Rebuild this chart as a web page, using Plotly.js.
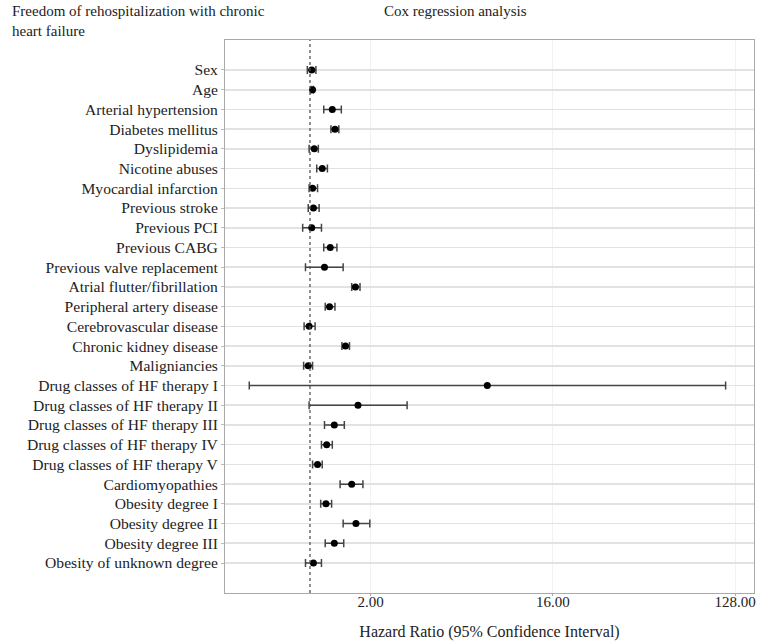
<!DOCTYPE html>
<html>
<head>
<meta charset="utf-8">
<script src="https://cdn.plot.ly/plotly-3.0.1.min.js"></script>
<style>
html,body{margin:0;padding:0;background:#fff;}
#chart{width:757px;height:643px;}
</style>
</head>
<body>
<div id="chart"></div>
<script>
const variables = [
  "Sex","Age","Arterial hypertension","Diabetes mellitus","Dyslipidemia",
  "Nicotine abuses","Myocardial infarction","Previous stroke","Previous PCI",
  "Previous CABG","Previous valve replacement","Atrial flutter/fibrillation",
  "Peripheral artery disease","Cerebrovascular disease","Chronic kidney disease",
  "Malignianciess","Drug classes of HF therapy I","Drug classes of HF therapy II",
  "Drug classes of HF therapy III","Drug classes of HF therapy IV",
  "Drug classes of HF therapy V","Cardiomyopathies","Obesity degree I",
  "Obesity degree II","Obesity degree III","Obesity of unknown degree"
];
const hazardRatio = [1.02,1.03,1.29,1.33,1.05,1.15,1.03,1.04,1.02,1.26,1.18,1.68,1.25,0.99,1.50,0.98,7.57,1.73,1.32,1.21,1.09,1.61,1.20,1.69,1.32,1.04];
const ciLower     = [0.97,1.01,1.17,1.27,0.99,1.08,0.99,0.98,0.92,1.17,0.95,1.61,1.19,0.935,1.44,0.93,0.50,0.99,1.18,1.14,1.03,1.41,1.13,1.46,1.19,0.95];
const ciUpper     = [1.07,1.04,1.43,1.39,1.10,1.22,1.09,1.11,1.14,1.36,1.46,1.77,1.33,1.06,1.57,1.03,115,3.03,1.48,1.29,1.15,1.83,1.28,1.98,1.47,1.14];
const tickValues = [2,16,128];
const tickLabels = ["2.00","16.00","128.00"];
const referenceValue = 1;

variables[15] = "Malignianciess".replace("ss","s");

const idx = variables.map((_, i) => i);
const FONT = "Liberation Serif, Times New Roman, serif";

const trace = {
  type: "scatter",
  mode: "markers",
  x: hazardRatio,
  y: idx,
  marker: {color: "#000", size: 7},
  error_x: {
    type: "data",
    symmetric: false,
    array: hazardRatio.map((v, i) => ciUpper[i] - v),
    arrayminus: hazardRatio.map((v, i) => v - ciLower[i]),
    color: "#444",
    thickness: 1.5,
    width: 4
  },
  hoverinfo: "skip",
  showlegend: false
};

const layout = {
  width: 757,
  height: 643,
  margin: {l: 225, r: 3, t: 40, b: 50},
  paper_bgcolor: "#fff",
  plot_bgcolor: "#fff",
  font: {family: FONT, size: 16, color: "#222"},
  xaxis: {
    type: "log",
    range: [Math.log10(0.379), Math.log10(159)],
    tickvals: tickValues,
    ticktext: tickLabels,
    ticks: "outside",
    ticklen: 2,
    tickcolor: "#aaa",
    ticklabeloverflow: "allow",
    ticklabelstandoff: -7,
    showgrid: true,
    gridcolor: "#f2f2f2",
    gridwidth: 1,
    zeroline: false,
    showline: true,
    linecolor: "#aaa",
    linewidth: 1,
    mirror: true,
    tickfont: {family: FONT, size: 15, color: "#222"},
    title: {text: "Hazard Ratio (95% Confidence Interval)", font: {family: FONT, size: 16, color: "#222"}, standoff: 16}
  },
  yaxis: {
    range: [variables.length - 1 + 1.52, -1.52],
    tickvals: idx,
    ticktext: variables,
    ticks: "outside",
    ticklen: 3,
    tickcolor: "#bbb",
    showgrid: true,
    gridcolor: "#e2e2e2",
    gridwidth: 1.6,
    zeroline: false,
    showline: true,
    linecolor: "#aaa",
    linewidth: 1,
    mirror: true,
    tickfont: {family: FONT, size: 15.6, color: "#222"}
  },
  shapes: [{
    type: "line",
    xref: "x", yref: "paper",
    x0: referenceValue, x1: referenceValue, y0: 0, y1: 1,
    line: {color: "#555", width: 1.3, dash: "3px,3px"}
  }],
  annotations: [
    {text: "Freedom of rehospitalization with chronic<br>heart failure", xref: "paper", yref: "paper",
     x: -225/529, xshift: 10, y: 1, yshift: 39, xanchor: "left", yanchor: "top", align: "left", showarrow: false,
     font: {family: FONT, size: 15, color: "#222"}},
    {text: "Cox regression analysis", xref: "paper", yref: "paper",
     x: (455-225)/529, y: 1, yshift: 39, xanchor: "center", yanchor: "top", showarrow: false,
     font: {family: FONT, size: 15, color: "#222"}}
  ]
};

Plotly.newPlot("chart", [trace], layout, {displayModeBar: false, staticPlot: true});
</script>
</body>
</html>
